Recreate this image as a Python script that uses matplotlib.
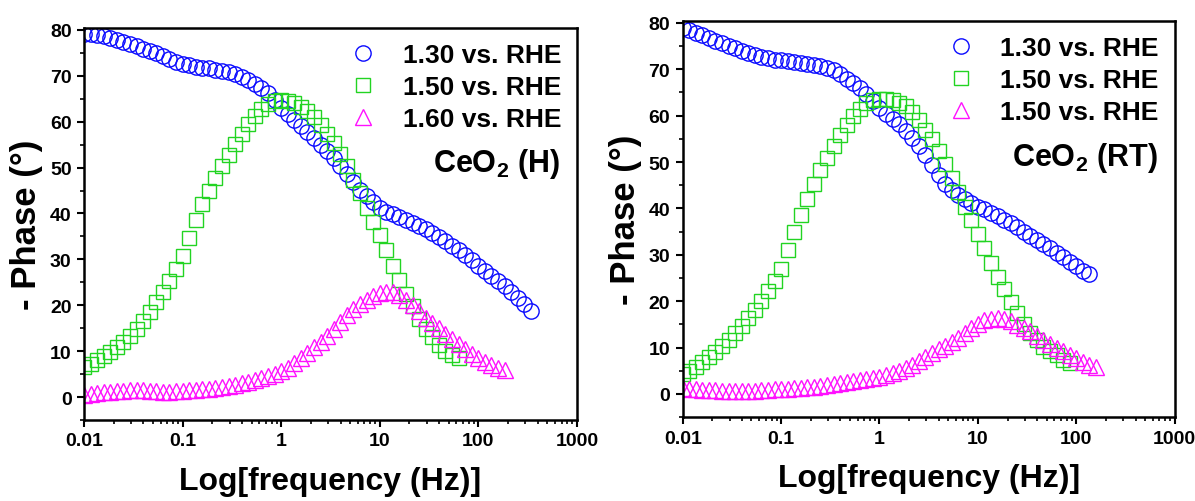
import matplotlib
matplotlib.use("Agg")
import matplotlib.pyplot as plt
from matplotlib.ticker import FixedLocator, FixedFormatter, MultipleLocator, LogLocator, NullFormatter

plt.rcParams['font.family'] = ['Liberation Sans', 'DejaVu Sans']
plt.rcParams['font.weight'] = 'bold'
plt.rcParams['mathtext.fontset'] = 'custom'
plt.rcParams['mathtext.rm'] = 'Liberation Sans:bold'
plt.rcParams['mathtext.bf'] = 'Liberation Sans:bold'

# measurement frequencies: 15 points per decade from 0.01 Hz
mantissa = [1.000, 1.166, 1.359, 1.585, 1.848, 2.154, 2.512, 2.929, 3.415, 3.981,
            4.642, 5.412, 6.310, 7.356, 8.577]
decades = [0.01, 0.1, 1, 10, 100]
freq = [m * d for d in decades for m in mantissa]

# ---------------- CeO2 (H) ----------------
h_130 = [79.2, 79.0, 78.8, 78.6, 78.3, 77.9, 77.4, 76.9, 76.4, 75.9,
         75.4, 74.9, 74.3, 73.7, 73.1, 72.6, 72.3, 72.0, 71.8, 71.6,
         71.3, 71.1, 70.8, 70.4, 69.8, 69.1, 68.2, 67.3, 66.3, 64.8,
         63.0, 61.7, 60.4, 59.0, 57.8, 56.5, 55.0, 53.6, 52.0, 50.3,
         48.5, 46.8, 45.2, 43.8, 42.4, 41.2, 40.4, 39.8, 39.2, 38.6,
         38.0, 37.3, 36.6, 35.8, 34.9, 34.0, 33.0, 32.0, 30.9, 29.8,
         28.6, 27.5, 26.4, 25.3, 24.1, 22.9, 21.6, 20.3, 18.7]
h_150 = [6.5, 7.3, 8.0, 8.9, 9.9, 11.0, 12.1, 13.4, 14.9, 16.6,
         18.6, 20.7, 22.9, 25.3, 27.9, 30.8, 34.6, 38.5, 42.0, 45.0,
         47.7, 50.3, 52.8, 55.1, 57.4, 59.5, 61.3, 62.8, 63.9, 64.5,
         64.7, 64.6, 64.1, 63.3, 62.3, 61.0, 59.3, 57.4, 55.3, 53.0,
         50.4, 47.4, 44.5, 41.2, 38.1, 35.2, 32.0, 28.6, 25.6, 22.4,
         19.8, 17.0, 14.8, 13.0, 11.4, 10.1, 9.2, 8.6]
h_160 = [0.5, 0.7, 0.9, 1.0, 1.2, 1.3, 1.4, 1.5, 1.5, 1.5,
         1.4, 1.3, 1.2, 1.2, 1.3, 1.4, 1.5, 1.6, 1.7, 1.8,
         1.9, 2.1, 2.4, 2.7, 3.0, 3.3, 3.7, 4.1, 4.5, 5.0,
         5.6, 6.4, 7.4, 8.5, 9.6, 10.8, 12.0, 13.4, 14.8, 16.3,
         17.8, 19.2, 20.3, 21.2, 22.0, 22.6, 22.9, 22.8, 22.2, 21.2,
         20.0, 18.7, 17.3, 16.1, 15.0, 13.8, 12.6, 11.5, 10.4, 9.3,
         8.4, 7.7, 7.0, 6.4, 5.9]

# ---------------- CeO2 (RT) ----------------
rt_130 = [78.8, 78.4, 77.9, 77.4, 76.8, 76.2, 75.6, 75.1, 74.6, 74.0,
          73.5, 73.1, 72.7, 72.4, 72.1, 71.9, 71.7, 71.6, 71.4, 71.2,
          71.0, 70.7, 70.3, 69.8, 69.0, 68.0, 67.0, 65.9, 64.6, 63.1,
          61.6, 60.3, 59.2, 58.1, 56.7, 55.1, 53.4, 51.5, 49.4, 47.2,
          45.3, 43.9, 42.9, 42.0, 41.2, 40.4, 39.8, 39.1, 38.4, 37.6,
          36.8, 35.9, 35.0, 34.1, 33.2, 32.3, 31.4, 30.5, 29.5, 28.5,
          27.5, 26.6, 25.8]
rt_150 = [4.2, 4.9, 5.8, 6.8, 7.9, 9.1, 10.4, 11.7, 13.1, 14.7,
          16.4, 18.1, 20.0, 22.1, 24.3, 26.9, 31.0, 35.0, 38.6, 42.0,
          45.2, 48.2, 50.9, 53.5, 55.9, 58.0, 59.9, 61.5, 62.7, 63.3,
          63.5, 63.5, 63.3, 62.8, 62.0, 60.7, 59.1, 57.0, 54.9, 52.3,
          49.6, 46.6, 43.5, 40.4, 37.4, 34.5, 31.5, 28.2, 25.2, 22.6,
          19.9, 17.5, 15.1, 13.2, 11.6, 10.2, 9.2, 8.3, 7.3, 6.6]
rt_160 = [1.3, 1.1, 1.0, 0.9, 0.8, 0.8, 0.7, 0.7, 0.7, 0.7,
          0.7, 0.7, 0.8, 0.9, 1.0, 1.0, 1.1, 1.2, 1.3, 1.4,
          1.5, 1.7, 1.9, 2.1, 2.4, 2.6, 2.8, 3.0, 3.2, 3.4,
          3.6, 4.0, 4.5, 5.0, 5.6, 6.3, 7.1, 7.9, 8.9, 9.7,
          10.4, 11.2, 12.1, 13.2, 14.3, 15.1, 15.9, 16.2, 16.3, 16.1,
          15.7, 14.9, 14.2, 13.5, 12.6, 11.7, 10.8, 9.9, 9.2, 8.5,
          7.7, 6.9, 6.3, 5.9]

labels_h = ['1.30 vs. RHE', '1.50 vs. RHE', '1.60 vs. RHE']
labels_rt = ['1.30 vs. RHE', '1.50 vs. RHE', '1.50 vs. RHE']
xticks = [0.01, 0.1, 1, 10, 100, 1000]
xticklabels = ['0.01', '0.1', '1', '10', '100', '1000']

blue = '#0a0aff'
green = '#22d422'
pink = '#ff10ff'

fig = plt.figure(figsize=(11.95, 5.02), dpi=100)
ax1 = fig.add_axes([0.0703, 0.1614, 0.4125, 0.7816])
ax2 = fig.add_axes([0.5713, 0.167, 0.4117, 0.790])

def draw(ax, s1, s2, s3, labels, tag):
    ax.plot(freq[:len(s1)], s1, 'o', ms=11, mfc='none', mec=blue, mew=1.0, label=labels[0])
    ax.plot(freq[:len(s2)], s2, 's', ms=9.8, mfc='none', mec=green, mew=1.0, label=labels[1])
    ax.plot(freq[:len(s3)], s3, '^', ms=11, mfc='none', mec=pink, mew=1.0, label=labels[2])
    ax.set_xscale('log')
    ax.set_xlim(0.01, 1000)
    ax.set_ylim(-5, 80.5)
    ax.xaxis.set_major_locator(FixedLocator(xticks))
    ax.xaxis.set_major_formatter(FixedFormatter(xticklabels))
    ax.xaxis.set_minor_locator(LogLocator(base=10, subs=range(2, 10)))
    ax.xaxis.set_minor_formatter(NullFormatter())
    ax.yaxis.set_major_locator(FixedLocator([0, 10, 20, 30, 40, 50, 60, 70, 80]))
    ax.yaxis.set_minor_locator(MultipleLocator(5))
    ax.tick_params(which='major', direction='out', length=5, width=1.5, labelsize=14, pad=4)
    ax.tick_params(which='minor', direction='out', length=3, width=1.2)
    for sp in ax.spines.values():
        sp.set_linewidth(1.8)
    for t in ax.get_xticklabels() + ax.get_yticklabels():
        t.set_fontweight('bold')
    ax.set_xlabel('Log[frequency (Hz)]', fontsize=23, fontweight='bold', labelpad=12)
    ax.set_ylabel('- Phase (°)', fontsize=25, fontweight='bold', labelpad=5)
    ax.legend(loc='upper right', frameon=False, handlelength=1.2,
              handletextpad=0.9, labelspacing=0.3, borderaxespad=0.2,
              prop={'weight': 'bold', 'size': 19})
    ax.text(0.966, 0.655, tag, transform=ax.transAxes, ha='right', va='center',
            fontsize=22, fontweight='bold')

draw(ax1, h_130, h_150, h_160, labels_h, r'CeO$_\mathbf{2}$ (H)')
draw(ax2, rt_130, rt_150, rt_160, labels_rt, r'CeO$_\mathbf{2}$ (RT)')

fig.savefig('out.png', dpi=100)
